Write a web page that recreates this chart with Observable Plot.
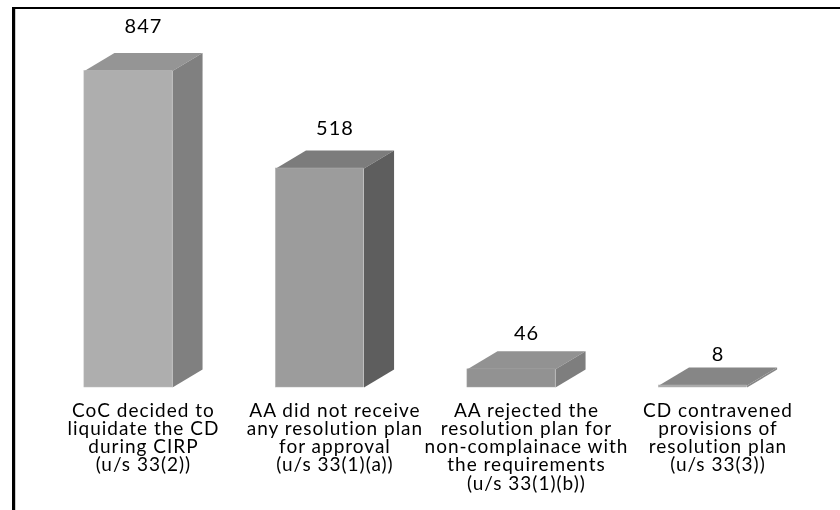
<!DOCTYPE html>
<html>
<head>
<meta charset="utf-8">
<script src="https://cdn.jsdelivr.net/npm/d3@7"></script>
<script src="https://cdn.jsdelivr.net/npm/@observablehq/plot@0.6"></script>
<style>
html,body{margin:0;padding:0;background:#fff;overflow:hidden}
#frame{position:absolute;left:12px;top:7px;right:0;bottom:0;border-left:3px solid #000;border-top:2px solid #000;box-shadow:inset 1px 0 0 #ccc}
#chart{position:absolute;left:0;top:0;filter:blur(0.35px)}
</style>
</head>
<body>
<div id="frame"></div>
<div id="chart"></div>
<script>
const categories = [
  "CoC decided to\nliquidate the CD\nduring CIRP\n(u/s 33(2))",
  "AA did not receive\nany resolution plan\nfor approval\n(u/s 33(1)(a))",
  "AA rejected the\nresolution plan for\nnon-complainace with\nthe requirements\n(u/s 33(1)(b))",
  "CD contravened\nprovisions of\nresolution plan\n(u/s 33(3))"
];
const values = [847, 518, 46, 8];
const frontFills = ["#aeaeae", "#9c9c9c", "#929292", "#a8a8a8"];
const frontEdges = ["#bdbdbd", "#b0b0b0", "#a6a6a6", "#b4b4b4"];
const topFills = ["#959595", "#7c7c7c", "#929292", "#868686"];
const sideFills = ["#808080", "#5e5e5e", "#7e7e7e", "#868686"];
const labelGaps = [26, 22, 18, 13];

// The picture's bars are not proportional to their labels, so y is piecewise.
const yDomain = [0, 8, 518, 847];
const yRange = [387, 385, 168, 70.5];
const xDomain = [-0.668, 3.718];
const halfWidth = 0.23, depthX = 0.157, depthY = 18;

const toPx = d3.scaleLinear().domain(yDomain).range(yRange);
const fromPx = d3.scaleLinear().domain(yRange).range(yDomain);
const raised = (v, px) => fromPx(toPx(v) - px);

const bars = values.map((value, i) => ({i, value, label: categories[i]}));

const quads = [];
function face(id, i, fill, corners) {
  corners.forEach(([x, y]) => quads.push({id, i, fill, x, y}));
}
bars.forEach(({i, value}) => {
  const l = i - halfWidth, r = i + halfWidth;
  face(`top${i}`, i, topFills[i], [
    [l, value], [r, value], [r + depthX, raised(value, depthY)], [l + depthX, raised(value, depthY)], [l, value]
  ]);
  face(`side${i}`, i, sideFills[i], [
    [r, 0], [r, value], [r + depthX, raised(value, depthY)], [r + depthX, raised(0, depthY)], [r, 0]
  ]);
});

const plot = Plot.plot({
  width: 840,
  height: 510,
  margin: 0,
  style: {background: "transparent", fontFamily: "Lato", letterSpacing: "1px"},
  x: {domain: xDomain, range: [0, 840], axis: null},
  y: {type: "linear", domain: yDomain, range: yRange, axis: null},
  color: {type: "identity"},
  marks: [
    Plot.line(quads, {x: "x", y: "y", z: "id", fill: "fill", stroke: "none", curve: "linear"}),
    Plot.rect(bars, {
      x1: d => d.i - halfWidth,
      x2: d => d.i + halfWidth,
      y1: 0,
      y2: "value",
      fill: d => frontFills[d.i],
      stroke: d => frontEdges[d.i],
      strokeWidth: 0.5
    }),
    Plot.text(bars, {
      x: "i",
      y: d => raised(d.value, depthY + labelGaps[d.i]),
      text: d => String(d.value),
      dx: 15,
      fontSize: 20,
      fill: "#000"
    }),
    Plot.text(bars, {
      x: "i",
      y: 0,
      dx: 15,
      dy: 17,
      text: "label",
      lineAnchor: "top",
      lineHeight: 0.95,
      fontSize: 19,
      fill: "#000"
    })
  ]
});
document.getElementById("chart").appendChild(plot);
</script>
</body>
</html>
